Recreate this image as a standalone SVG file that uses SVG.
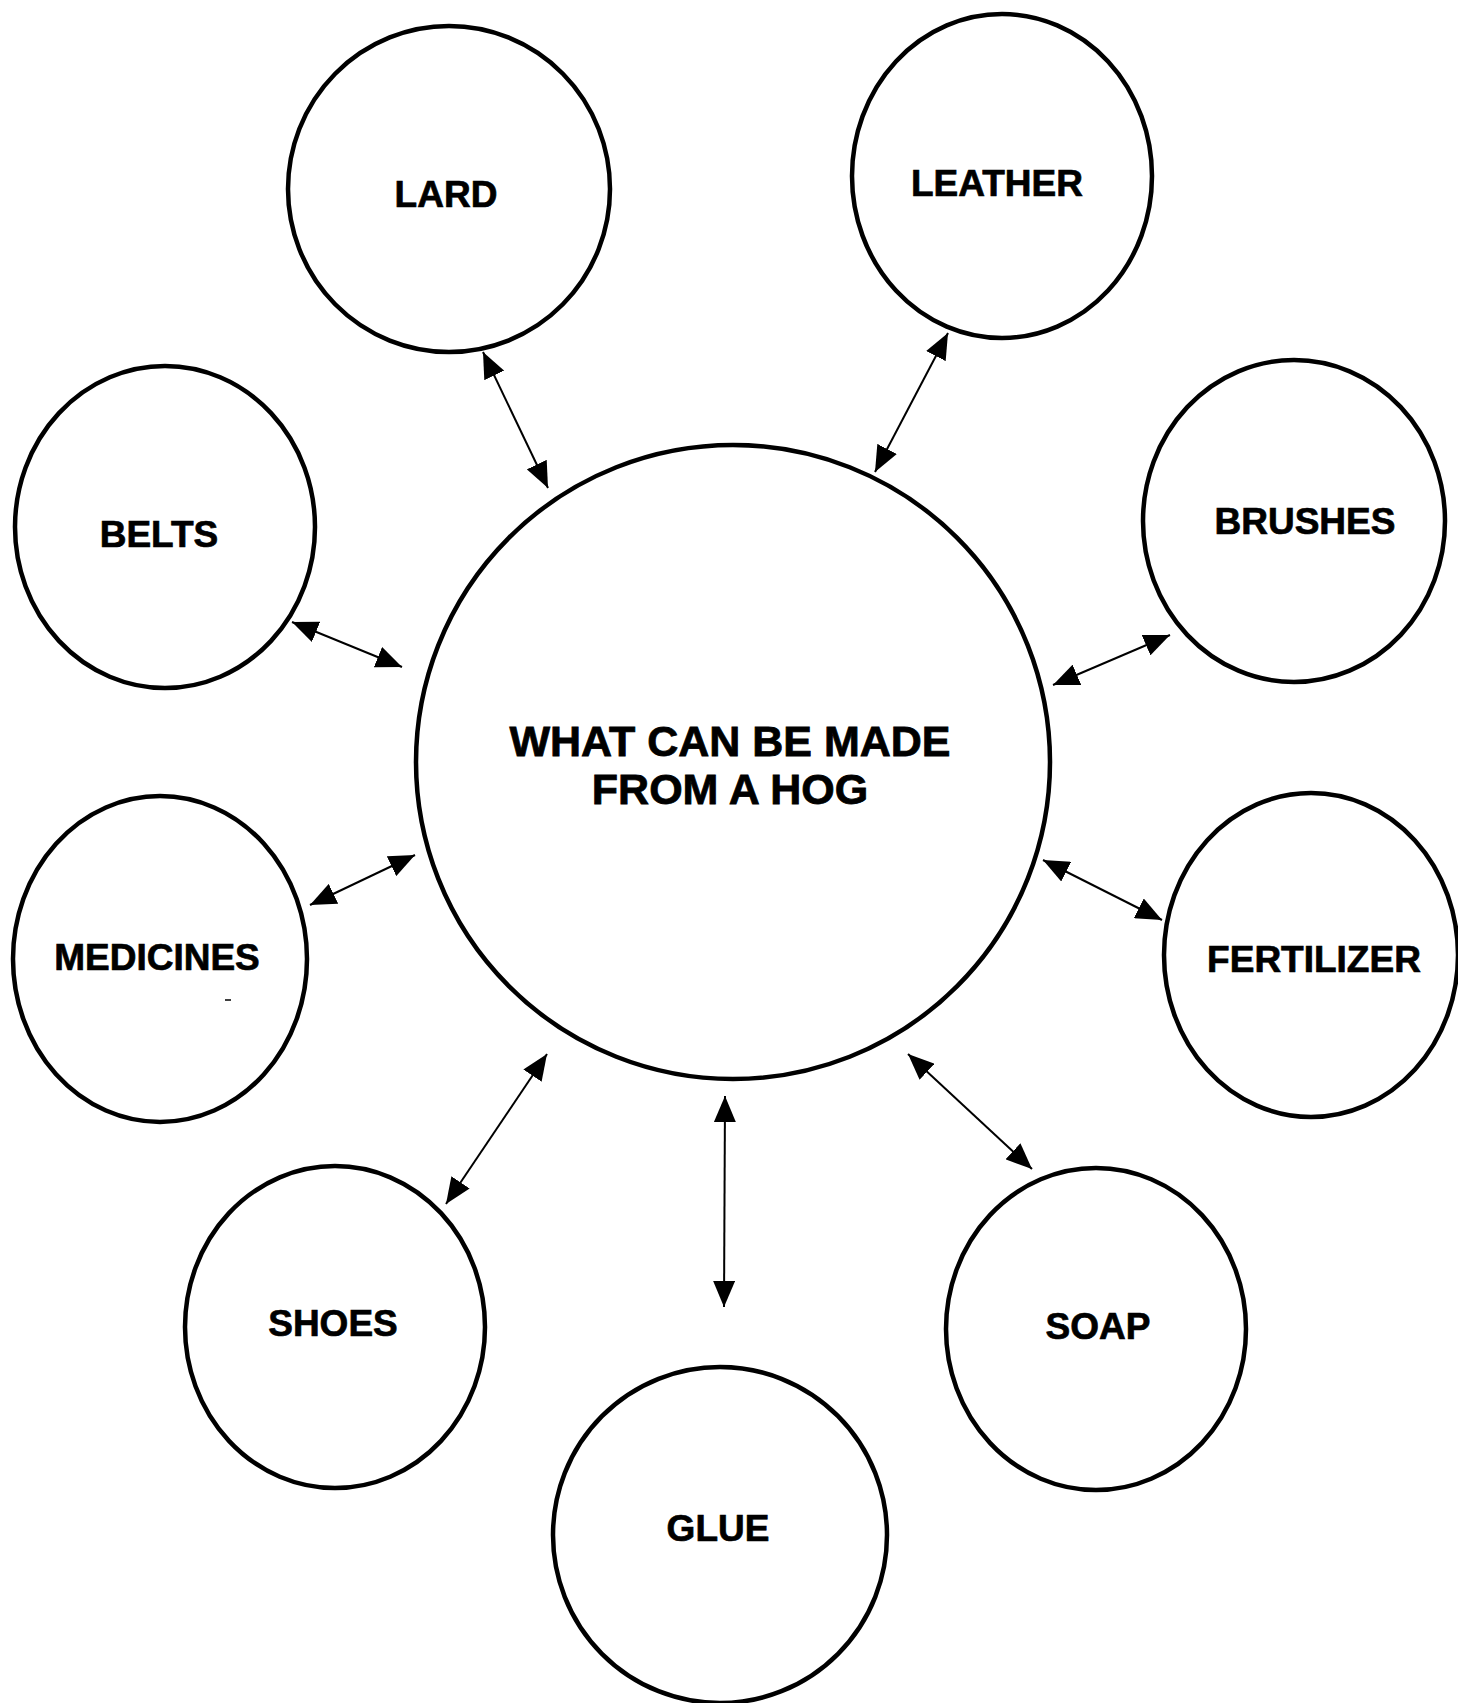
<svg xmlns="http://www.w3.org/2000/svg" width="1458" height="1703" viewBox="0 0 1458 1703">
  <style>
    .node { fill: #fff; stroke: #000; stroke-width: 4.5; }
    .label { font-family: "Liberation Sans", Arial, sans-serif; font-weight: bold; font-size: 37px; fill: #000; stroke: #000; stroke-width: 0.7; text-anchor: middle; }
    .title { font-size: 43px; stroke-width: 0.8; }
    .link { stroke: #000; stroke-width: 2; fill: none; marker-start: url(#head); marker-end: url(#head); }
  </style>
  <defs>
    <marker id="head" viewBox="0 0 26 22" refX="26" refY="11" markerWidth="26" markerHeight="22" markerUnits="userSpaceOnUse" orient="auto-start-reverse">
      <path d="M0,0 L26,11 L0,22 Z" fill="#000"/>
    </marker>
  </defs>
  <rect width="1458" height="1703" fill="#fff"/>

  <g id="hub">
    <circle class="node" cx="733" cy="762" r="317"/>
    <text class="label title" x="730" y="756">WHAT CAN BE MADE</text>
    <text class="label title" x="730" y="804">FROM A HOG</text>
  </g>
  <g id="lard">
    <ellipse class="node" cx="449" cy="189" rx="161" ry="163"/>
    <text class="label" x="446" y="207">LARD</text>
  </g>
  <g id="leather">
    <ellipse class="node" cx="1002" cy="176" rx="150" ry="162"/>
    <text class="label" x="997" y="196">LEATHER</text>
  </g>
  <g id="belts">
    <ellipse class="node" cx="165" cy="527" rx="150" ry="161"/>
    <text class="label" x="159" y="547">BELTS</text>
  </g>
  <g id="brushes">
    <ellipse class="node" cx="1294" cy="521" rx="151" ry="161"/>
    <text class="label" x="1305" y="534">BRUSHES</text>
  </g>
  <g id="medicines">
    <ellipse class="node" cx="160" cy="959" rx="147" ry="163"/>
    <text class="label" x="157" y="970">MEDICINES</text>
    <path d="M225,1000 L231,1000" stroke="#000" stroke-width="1.5"/>
  </g>
  <g id="fertilizer">
    <ellipse class="node" cx="1311" cy="955" rx="147" ry="162"/>
    <text class="label" x="1314" y="972">FERTILIZER</text>
  </g>
  <g id="shoes">
    <ellipse class="node" cx="335" cy="1327" rx="150" ry="161"/>
    <text class="label" x="333" y="1336">SHOES</text>
  </g>
  <g id="glue">
    <ellipse class="node" cx="720" cy="1535" rx="167" ry="168"/>
    <text class="label" x="718" y="1541">GLUE</text>
  </g>
  <g id="soap">
    <ellipse class="node" cx="1096" cy="1329" rx="150" ry="161"/>
    <text class="label" x="1098" y="1339">SOAP</text>
  </g>

  <g id="connectors">
    <line class="link" x1="483" y1="352" x2="548" y2="488"/>
    <line class="link" x1="948" y1="333" x2="875" y2="472"/>
    <line class="link" x1="292" y1="622" x2="402" y2="667"/>
    <line class="link" x1="1170" y1="635" x2="1053" y2="685"/>
    <line class="link" x1="310" y1="905" x2="415" y2="855"/>
    <line class="link" x1="1043" y1="860" x2="1162" y2="920"/>
    <line class="link" x1="547" y1="1054" x2="446" y2="1204"/>
    <line class="link" x1="725" y1="1096" x2="724" y2="1307"/>
    <line class="link" x1="908" y1="1054" x2="1032" y2="1169"/>
  </g>
</svg>
